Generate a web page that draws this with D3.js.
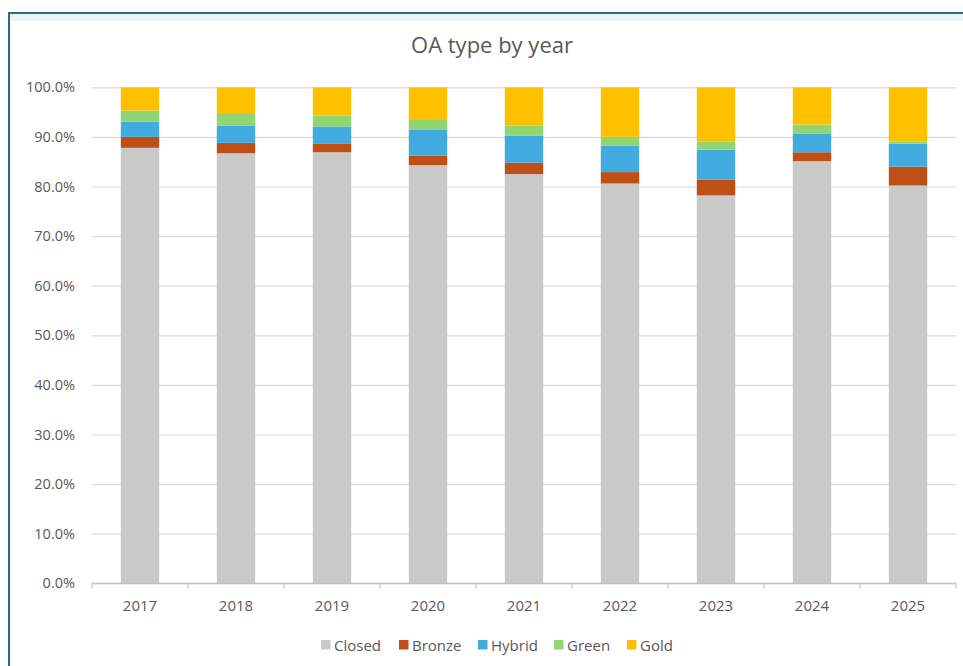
<!DOCTYPE html>
<html>
<head>
<meta charset="utf-8">
<script src="https://cdn.jsdelivr.net/npm/d3@7"></script>
<style>
  html, body { margin: 0; padding: 0; background: #fff; }
  svg { display: block; font-family: "Open Sans", Lato, sans-serif; }
</style>
</head>
<body>
<svg id="chart" width="963" height="666"></svg>
<script>
// Share of publications by open-access type, per year (percent)
const years  = ["2017", "2018", "2019", "2020", "2021", "2022", "2023", "2024", "2025"];
const closed = [87.8, 86.7, 86.9, 84.3, 82.5, 80.6, 78.2, 85.1, 80.2];
const bronze = [2.2, 2.1, 1.8, 1.9, 2.3, 2.3, 3.2, 1.8, 3.8];
const hybrid = [3.1, 3.5, 3.4, 5.2, 5.5, 5.3, 6.0, 3.8, 4.6];
const green  = [2.2, 2.5, 2.2, 2.0, 2.0, 1.8, 1.7, 1.8, 0.5];
const gold   = [4.7, 5.2, 5.7, 6.6, 7.7, 10.0, 10.9, 7.5, 10.9];
const seriesNames = ["Closed", "Bronze", "Hybrid", "Green", "Gold"];
const seriesColors = ["#c9c9c9", "#c04f15", "#41abdf", "#8fd672", "#ffc000"];
const yTicks = [0, 10, 20, 30, 40, 50, 60, 70, 80, 90, 100];

const seriesValues = [closed, bronze, hybrid, green, gold];
const rows = years.map((year, i) => {
  const row = { year };
  seriesNames.forEach((name, s) => { row[name] = seriesValues[s][i]; });
  return row;
});

const svg = d3.select("#chart");
const margin = { left: 92, right: 7, top: 87.3, bottom: 82.7 };
const W = 963, H = 666;

// Outer frame (top and left edges visible)
svg.append("rect").attr("x", 9).attr("y", 13).attr("width", W).attr("height", 8)
  .attr("fill", "#eef3f6");
svg.append("line").attr("x1", 8).attr("x2", W).attr("y1", 13).attr("y2", 13)
  .attr("stroke", "#2d6a89").attr("stroke-width", 2);
svg.append("line").attr("x1", 9).attr("x2", 9).attr("y1", 12).attr("y2", H)
  .attr("stroke", "#2d6a89").attr("stroke-width", 2);

const x = d3.scaleBand().domain(years)
  .range([margin.left, W - margin.right]).paddingInner(0.6).paddingOuter(0.3);
const y = d3.scaleLinear().domain([0, 100]).range([H - margin.bottom, margin.top]);

// Title
svg.append("text").attr("x", 492).attr("y", 53).attr("text-anchor", "middle")
  .attr("font-size", 22).attr("fill", "#595959").text("OA type by year");

// Gridlines and y labels
const yAxis = d3.axisLeft(y).tickValues(yTicks)
  .tickSize(-(W - margin.right - margin.left))
  .tickFormat(d => d3.format(".1f")(d) + "%")
  .tickPadding(17);
const gy = svg.append("g").attr("transform", `translate(${margin.left},0)`).call(yAxis);
gy.select(".domain").remove();
gy.selectAll(".tick line").attr("stroke", "#d9d9d9").attr("stroke-width", 1.2);
gy.selectAll(".tick text").attr("fill", "#595959").attr("font-size", 14.5)
  .attr("font-family", "'Open Sans', sans-serif");

// Stacked bars
const stack = d3.stack().keys(seriesNames)(rows);
svg.append("g").selectAll("g").data(stack).join("g")
  .attr("fill", (d, i) => seriesColors[i])
  .selectAll("rect").data(d => d).join("rect")
  .attr("x", d => x(d.data.year))
  .attr("width", x.bandwidth())
  .attr("y", d => y(d[1]))
  .attr("height", d => y(d[0]) - y(d[1]));

// X axis with ticks between categories
const baseY = y(0);
const gx = svg.append("g").attr("transform", `translate(0,${baseY})`);
gx.append("line").attr("x1", margin.left).attr("x2", W - margin.right)
  .attr("stroke", "#bfbfbf").attr("stroke-width", 1.2);
const boundaries = d3.range(years.length + 1)
  .map(i => margin.left + i * (W - margin.right - margin.left) / years.length);
gx.selectAll("line.tk").data(boundaries).join("line").attr("class", "tk")
  .attr("x1", d => d).attr("x2", d => d).attr("y1", 0).attr("y2", 5)
  .attr("stroke", "#bfbfbf").attr("stroke-width", 1.2);
gx.selectAll("text").data(years).join("text")
  .attr("x", d => x(d) + x.bandwidth() / 2).attr("y", 27.5)
  .attr("text-anchor", "middle").attr("font-size", 15).attr("fill", "#595959")
  .text(d => d);

// Legend
const legendX = [321, 399, 478, 554, 627];
const lg = svg.append("g").selectAll("g").data(seriesNames).join("g")
  .attr("transform", (d, i) => `translate(${legendX[i]},645)`);
lg.append("rect").attr("x", 0).attr("y", -5).attr("width", 9.5).attr("height", 9.5)
  .attr("fill", (d, i) => seriesColors[i]);
lg.append("text").attr("x", 13).attr("y", 5.5).attr("font-size", 15).attr("fill", "#595959")
  .text(d => d);
</script>
</body>
</html>
